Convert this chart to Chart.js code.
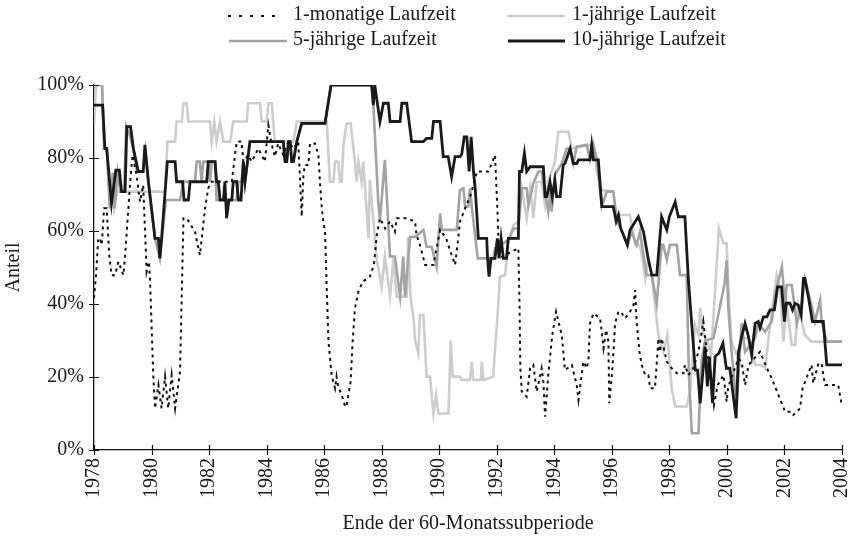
<!DOCTYPE html>
<html>
<head>
<meta charset="utf-8">
<script src="https://cdn.jsdelivr.net/npm/chart.js@4.4.1/dist/chart.umd.min.js"></script>
<style>
  html, body { margin: 0; padding: 0; background: #fff; }
  #wrap { width: 852px; height: 540px; }
</style>
</head>
<body>
<div id="wrap"><canvas id="shareChart" width="852" height="540"></canvas></div>
<script>
// series labels
const seriesLabels = ['1-monatige Laufzeit', '1-jährige Laufzeit', '5-jährige Laufzeit', '10-jährige Laufzeit'];

// x tick years and y tick values (percent)
const yearTicks = [1978, 1980, 1982, 1984, 1986, 1988, 1990, 1992, 1994, 1996, 1998, 2000, 2002, 2004];
const shareTicks = [0, 20, 40, 60, 80, 100];

// [end of subperiode (year), share in %]
const oneMonth = [
  [1978.00, 41.6], [1978.07, 47.9], [1978.15, 58.0], [1978.21, 58.0], [1978.27, 56.2], [1978.35, 66.2],
  [1978.44, 66.2], [1978.53, 53.4], [1978.61, 47.9], [1978.73, 47.9], [1978.85, 51.6], [1979.02, 47.9],
  [1979.08, 53.0], [1979.25, 72.6], [1979.34, 80.8], [1979.48, 75.3], [1979.60, 68.0], [1979.71, 72.6],
  [1979.83, 48.9], [1979.91, 51.6], [1979.95, 46.1], [1980.06, 20.5], [1980.12, 11.4], [1980.24, 17.8],
  [1980.35, 11.4], [1980.47, 20.1], [1980.58, 11.4], [1980.70, 20.5], [1980.82, 11.4], [1980.99, 21.5],
  [1981.11, 63.5], [1981.22, 63.5], [1981.51, 59.8], [1981.68, 53.4], [1981.86, 66.2], [1981.97, 71.7],
  [1982.09, 73.5], [1982.79, 73.5], [1982.90, 80.8], [1982.96, 84.5], [1983.13, 84.5], [1983.19, 79.0],
  [1983.36, 80.8], [1983.48, 79.0], [1983.71, 82.6], [1983.94, 79.0], [1984.06, 89.0], [1984.18, 83.6],
  [1984.29, 80.4], [1984.40, 84.0], [1984.58, 80.8], [1984.76, 84.5], [1984.93, 82.6], [1985.10, 84.5],
  [1985.22, 64.0], [1985.28, 75.3], [1985.33, 78.1], [1985.45, 78.1], [1985.51, 84.0], [1985.68, 84.0],
  [1985.80, 80.8], [1985.86, 72.6], [1985.92, 66.2], [1985.97, 62.6], [1986.03, 59.8], [1986.09, 44.3],
  [1986.15, 29.7], [1986.26, 20.5], [1986.38, 16.9], [1986.43, 20.1], [1986.49, 17.4], [1986.61, 15.1],
  [1986.73, 11.9], [1986.78, 11.9], [1986.84, 15.1], [1986.92, 18.7], [1986.99, 29.7], [1987.07, 38.8],
  [1987.19, 43.4], [1987.34, 46.1], [1987.59, 47.5], [1987.73, 50.7], [1987.83, 58.9], [1987.94, 63.5],
  [1988.12, 60.7], [1988.29, 62.6], [1988.46, 59.8], [1988.52, 63.5], [1988.87, 63.5], [1989.16, 62.6],
  [1989.21, 58.9], [1989.33, 56.2], [1989.51, 50.7], [1989.80, 50.7], [1989.90, 55.0], [1990.03, 60.3],
  [1990.24, 58.0], [1990.35, 55.3], [1990.55, 50.7], [1990.66, 58.0], [1990.72, 62.6], [1990.90, 66.2],
  [1991.07, 69.4], [1991.19, 72.6], [1991.31, 76.3], [1991.71, 76.3], [1991.94, 80.8], [1991.99, 71.7],
  [1992.03, 64.4], [1992.08, 52.5], [1992.75, 55.3], [1992.79, 40.0], [1992.82, 22.4], [1992.87, 16.0],
  [1993.04, 14.6], [1993.16, 22.4], [1993.27, 23.3], [1993.39, 16.0], [1993.56, 22.4], [1993.62, 18.7],
  [1993.68, 9.1], [1993.79, 20.5], [1993.93, 31.5], [1994.06, 37.9], [1994.16, 34.7], [1994.26, 31.5],
  [1994.37, 21.9], [1994.61, 23.3], [1994.78, 17.8], [1994.84, 13.7], [1995.01, 24.2], [1995.13, 22.4],
  [1995.19, 25.1], [1995.24, 34.7], [1995.36, 37.4], [1995.59, 36.1], [1995.65, 32.4], [1995.71, 27.9],
  [1995.80, 32.9], [1995.88, 29.7], [1995.91, 12.8], [1996.00, 20.5], [1996.08, 29.7], [1996.11, 34.7],
  [1996.23, 37.9], [1996.31, 37.9], [1996.46, 36.1], [1996.63, 37.9], [1996.75, 39.7], [1996.81, 43.8],
  [1996.86, 35.2], [1996.96, 26.9], [1997.04, 23.3], [1997.16, 20.5], [1997.27, 20.5], [1997.33, 16.9],
  [1997.50, 16.9], [1997.62, 30.6], [1997.67, 26.9], [1997.73, 30.6], [1997.91, 24.2], [1998.08, 22.4],
  [1998.26, 21.0], [1998.49, 21.0], [1998.54, 23.3], [1998.66, 20.5], [1998.83, 22.4], [1999.01, 26.9],
  [1999.18, 35.2], [1999.30, 26.9], [1999.45, 20.1], [1999.55, 12.3], [1999.68, 17.8], [1999.88, 20.5],
  [1999.99, 13.2], [2000.05, 17.4], [2000.40, 25.1], [2000.51, 24.2], [2000.63, 17.8], [2000.75, 23.3],
  [2001.15, 26.9], [2001.39, 22.4], [2001.56, 19.6], [2001.79, 15.1], [2002.02, 10.5], [2002.25, 10.5],
  [2002.31, 9.6], [2002.54, 11.4], [2002.63, 16.9], [2002.94, 23.3], [2003.00, 18.3], [2003.18, 23.7],
  [2003.29, 23.7], [2003.41, 17.8], [2003.87, 17.8], [2003.99, 12.3]
];

const oneYear = [
  [1978.00, 88.6], [1978.07, 100], [1978.28, 100], [1978.37, 82.6], [1978.45, 82.6], [1978.55, 66.2],
  [1978.62, 72.0], [1978.70, 66.2], [1978.80, 70.8], [1980.47, 70.8], [1980.55, 84.5], [1980.82, 84.5],
  [1980.87, 90.0], [1981.05, 90.0], [1981.11, 95.0], [1981.22, 95.0], [1981.28, 90.0], [1982.03, 90.0],
  [1982.09, 84.5], [1982.18, 90.0], [1982.26, 84.5], [1982.38, 90.0], [1982.50, 84.5], [1982.73, 84.5],
  [1982.84, 90.0], [1983.31, 90.0], [1983.36, 95.0], [1983.77, 95.0], [1983.83, 90.0], [1984.00, 90.0],
  [1984.06, 95.0], [1984.18, 95.0], [1984.23, 90.0], [1984.29, 84.5], [1984.93, 84.5], [1985.05, 90.0],
  [1986.09, 90.0], [1986.20, 73.5], [1986.32, 73.5], [1986.38, 79.0], [1986.49, 79.0], [1986.55, 73.5],
  [1986.61, 73.5], [1986.67, 83.6], [1986.78, 89.5], [1986.92, 89.5], [1987.07, 79.0], [1987.13, 73.5],
  [1987.19, 79.0], [1987.30, 73.5], [1987.36, 79.0], [1987.54, 58.0], [1987.59, 74.0], [1987.71, 63.0],
  [1987.83, 52.0], [1988.00, 44.7], [1988.11, 53.0], [1988.29, 42.0], [1988.41, 52.5], [1988.52, 42.0],
  [1988.87, 42.0], [1988.92, 58.4], [1989.00, 42.0], [1989.10, 36.5], [1989.16, 30.0], [1989.27, 26.5],
  [1989.33, 37.0], [1989.45, 37.0], [1989.56, 20.1], [1989.68, 20.1], [1989.80, 10.0], [1989.89, 15.1],
  [1989.97, 10.0], [1990.32, 10.0], [1990.40, 30.0], [1990.47, 20.1], [1990.72, 20.1], [1990.78, 19.2],
  [1991.07, 19.2], [1991.13, 24.2], [1991.19, 19.2], [1991.45, 19.2], [1991.48, 24.2], [1991.53, 19.2],
  [1991.88, 20.1], [1991.94, 27.9], [1992.03, 37.0], [1992.11, 47.5], [1992.29, 47.9], [1992.40, 57.1],
  [1992.58, 61.6], [1992.75, 62.6], [1992.87, 71.7], [1993.04, 63.5], [1993.16, 71.7], [1993.27, 63.5],
  [1993.39, 73.5], [1993.56, 73.5], [1993.68, 67.1], [1993.79, 73.5], [1994.02, 79.0], [1994.14, 87.2],
  [1994.49, 87.2], [1994.61, 82.6], [1994.84, 83.1], [1995.36, 83.6], [1995.48, 76.3], [1995.65, 71.2],
  [1996.05, 70.8], [1996.15, 64.4], [1996.63, 64.4], [1996.81, 56.2], [1996.98, 56.2], [1997.16, 47.0],
  [1997.27, 52.5], [1997.39, 47.9], [1997.50, 39.7], [1997.62, 31.5], [1997.79, 26.9], [1997.93, 31.5],
  [1998.08, 16.9], [1998.20, 11.9], [1998.60, 11.9], [1998.72, 16.0], [1998.89, 34.2], [1999.01, 31.5],
  [1999.07, 39.0], [1999.18, 31.5], [1999.33, 29.7], [1999.45, 26.0], [1999.72, 60.7], [1999.88, 56.6],
  [1999.99, 56.6], [2000.05, 44.3], [2000.16, 29.7], [2000.34, 26.0], [2000.51, 30.6], [2000.75, 30.6],
  [2000.98, 23.3], [2001.21, 23.3], [2001.33, 22.4], [2001.50, 34.2], [2001.73, 47.9], [2001.85, 44.3],
  [2001.96, 29.7], [2002.08, 39.7], [2002.25, 28.8], [2002.37, 28.8], [2002.48, 39.7], [2002.60, 35.2],
  [2002.71, 31.5], [2002.94, 29.7], [2004.00, 29.7]
];

const fiveYear = [
  [1978.00, 100], [1978.28, 100], [1978.35, 82.6], [1978.45, 82.6], [1978.55, 66.2], [1978.65, 76.0],
  [1978.72, 66.2], [1978.82, 76.0], [1978.92, 70.8], [1979.05, 70.8], [1979.12, 88.6], [1979.25, 86.0],
  [1979.36, 82.6], [1979.50, 76.3], [1979.70, 76.3], [1979.78, 82.0], [1979.89, 73.5], [1980.12, 58.0],
  [1980.29, 52.5], [1980.50, 68.5], [1980.99, 68.5], [1981.11, 73.5], [1981.51, 73.5], [1981.57, 79.0],
  [1981.68, 79.0], [1981.74, 73.5], [1981.80, 79.0], [1981.97, 79.0], [1982.03, 73.5], [1982.09, 79.0],
  [1982.21, 79.0], [1982.26, 68.5], [1982.96, 68.5], [1983.02, 73.5], [1983.13, 73.5], [1983.19, 79.0],
  [1983.25, 73.5], [1983.42, 84.5], [1984.58, 84.5], [1984.64, 79.0], [1984.70, 79.0], [1984.76, 84.5],
  [1984.82, 84.5], [1984.87, 79.0], [1984.93, 79.0], [1985.05, 84.5], [1985.22, 89.5], [1986.03, 89.5],
  [1986.24, 100], [1987.65, 100], [1987.71, 94.5], [1987.88, 68.0], [1987.94, 63.0], [1988.11, 79.5],
  [1988.29, 53.0], [1988.46, 53.0], [1988.64, 42.0], [1988.75, 53.0], [1988.81, 42.0], [1988.99, 58.4],
  [1989.16, 58.4], [1989.45, 60.3], [1989.56, 55.7], [1989.74, 55.7], [1989.91, 50.2], [1990.03, 64.8],
  [1990.09, 60.3], [1990.61, 60.3], [1990.72, 71.2], [1990.84, 71.7], [1990.90, 66.7], [1991.01, 66.7],
  [1991.07, 71.7], [1991.13, 66.7], [1991.34, 52.5], [1991.88, 52.5], [1991.94, 55.3], [1992.40, 57.5],
  [1992.58, 60.7], [1992.75, 60.7], [1992.87, 71.7], [1993.04, 71.7], [1993.10, 67.1], [1993.27, 73.1],
  [1993.45, 76.3], [1993.56, 76.3], [1993.79, 65.3], [1993.85, 69.9], [1993.91, 65.3], [1994.02, 75.3],
  [1994.26, 78.5], [1994.43, 82.6], [1994.55, 82.6], [1994.66, 78.5], [1994.78, 83.1], [1995.13, 83.6],
  [1995.24, 79.5], [1995.36, 83.6], [1995.48, 79.5], [1995.65, 66.7], [1995.82, 70.8], [1996.05, 70.8],
  [1996.17, 63.0], [1996.40, 58.9], [1996.54, 56.2], [1996.69, 59.8], [1996.86, 56.2], [1996.98, 59.8],
  [1997.21, 47.9], [1997.39, 47.9], [1997.56, 40.2], [1997.73, 56.2], [1997.79, 56.2], [1997.91, 52.1],
  [1998.02, 56.2], [1998.26, 56.2], [1998.37, 47.9], [1998.60, 47.9], [1998.68, 20.5], [1998.78, 4.6],
  [1999.01, 4.6], [1999.12, 24.7], [1999.24, 30.0], [1999.53, 30.6], [1999.75, 39.0], [1999.92, 45.7],
  [1999.99, 52.0], [2000.05, 38.8], [2000.16, 26.9], [2000.34, 12.3], [2000.51, 34.7], [2000.63, 26.9],
  [2000.98, 30.6], [2001.09, 34.7], [2001.33, 32.4], [2001.56, 35.2], [2001.67, 42.5], [2001.91, 50.2],
  [2002.02, 39.7], [2002.08, 45.2], [2002.25, 45.2], [2002.43, 34.7], [2002.60, 39.7], [2002.71, 47.0],
  [2002.94, 39.7], [2003.06, 35.2], [2003.24, 41.1], [2003.29, 35.2], [2003.47, 29.7], [2004.00, 29.7]
];

const tenYear = [
  [1978.00, 94.5], [1978.30, 94.5], [1978.38, 82.6], [1978.44, 82.6], [1978.61, 67.6], [1978.76, 76.7],
  [1978.88, 76.7], [1978.96, 70.8], [1979.08, 70.8], [1979.14, 88.6], [1979.27, 88.6], [1979.37, 82.6],
  [1979.54, 76.3], [1979.71, 76.3], [1979.77, 83.6], [1979.89, 73.5], [1980.12, 58.0], [1980.24, 58.0],
  [1980.29, 52.5], [1980.35, 58.0], [1980.55, 79.0], [1980.82, 79.0], [1980.87, 73.5], [1981.08, 73.5],
  [1981.13, 68.5], [1981.28, 68.5], [1981.34, 73.5], [1981.92, 73.5], [1981.97, 79.0], [1982.21, 79.0],
  [1982.26, 73.5], [1982.32, 73.5], [1982.38, 68.5], [1982.50, 68.5], [1982.55, 73.5], [1982.61, 63.5],
  [1982.69, 68.5], [1982.79, 68.5], [1982.84, 73.5], [1982.96, 73.5], [1983.02, 68.5], [1983.11, 68.5],
  [1983.19, 79.0], [1983.25, 73.5], [1983.42, 84.5], [1984.58, 84.5], [1984.64, 79.0], [1984.70, 79.0],
  [1984.76, 84.5], [1984.82, 84.5], [1984.87, 79.0], [1984.93, 79.0], [1985.05, 84.5], [1985.22, 89.5],
  [1986.03, 89.5], [1986.24, 100], [1987.65, 100], [1987.71, 94.5], [1987.76, 100], [1987.94, 90.0],
  [1988.06, 95.0], [1988.23, 95.0], [1988.29, 90.0], [1988.64, 90.0], [1988.70, 95.0], [1988.87, 95.0],
  [1989.04, 84.5], [1989.45, 84.5], [1989.56, 85.4], [1989.74, 85.4], [1989.80, 90.0], [1990.03, 90.0],
  [1990.14, 80.4], [1990.31, 80.4], [1990.43, 74.9], [1990.55, 80.4], [1990.72, 80.4], [1990.78, 81.0],
  [1990.87, 85.8], [1990.96, 85.8], [1991.04, 76.3], [1991.11, 85.8], [1991.19, 76.3], [1991.25, 71.7],
  [1991.36, 58.0], [1991.65, 58.0], [1991.68, 52.5], [1991.73, 47.5], [1991.80, 52.5], [1991.94, 52.5],
  [1992.02, 58.0], [1992.08, 52.5], [1992.15, 58.0], [1992.23, 52.5], [1992.34, 52.5], [1992.40, 58.0],
  [1992.75, 58.0], [1992.79, 76.3], [1992.87, 76.3], [1992.96, 81.3], [1993.04, 76.3], [1993.16, 77.6],
  [1993.62, 77.6], [1993.68, 69.4], [1993.74, 69.4], [1993.85, 73.5], [1993.93, 69.4], [1994.02, 74.0],
  [1994.08, 69.4], [1994.20, 69.4], [1994.31, 78.1], [1994.37, 78.5], [1994.55, 82.6], [1994.66, 78.5],
  [1994.78, 78.5], [1994.84, 79.5], [1995.24, 79.5], [1995.30, 83.6], [1995.36, 79.5], [1995.53, 79.5],
  [1995.65, 66.7], [1996.05, 66.7], [1996.15, 62.6], [1996.23, 64.4], [1996.31, 60.7], [1996.54, 56.2],
  [1996.63, 60.3], [1996.92, 63.9], [1997.10, 59.8], [1997.27, 52.1], [1997.39, 47.9], [1997.56, 47.9],
  [1997.73, 63.9], [1997.91, 60.3], [1998.00, 63.9], [1998.20, 68.0], [1998.31, 63.9], [1998.54, 63.9],
  [1998.66, 46.6], [1998.90, 21.9], [1998.98, 21.9], [1999.07, 12.8], [1999.24, 28.3], [1999.32, 17.4],
  [1999.39, 25.6], [1999.50, 12.8], [1999.59, 25.6], [1999.72, 26.5], [1999.86, 29.2], [1999.98, 22.4],
  [2000.10, 22.4], [2000.32, 8.7], [2000.40, 26.5], [2000.51, 31.0], [2000.63, 34.7], [2000.75, 31.0],
  [2000.86, 26.0], [2000.98, 34.7], [2001.09, 35.2], [2001.15, 33.5], [2001.27, 36.5], [2001.39, 36.5],
  [2001.50, 38.4], [2001.65, 38.4], [2001.76, 44.7], [2001.90, 44.7], [2002.00, 35.2], [2002.06, 40.2],
  [2002.19, 40.2], [2002.28, 38.4], [2002.37, 40.2], [2002.48, 39.7], [2002.58, 37.0], [2002.66, 47.0],
  [2002.71, 47.0], [2002.85, 41.1], [2002.97, 35.2], [2003.35, 35.2], [2003.47, 23.3], [2004.00, 23.3]
];

const FONT = 'Liberation Serif, Times New Roman, serif';
const TEXT = '#1a1a1a';

function toPoints(pairs) {
    return pairs.map(function(p) { return { x: p[0], y: p[1] }; });
}

// tick marks that cross the axis lines, like the original
const crossTicks = {
    id: 'crossTicks',
    afterDatasetsDraw(chart) {
        const ctx = chart.ctx;
        const xs = chart.scales.x, ys = chart.scales.y;
        const area = chart.chartArea;
        ctx.save();
        ctx.strokeStyle = '#111';
        ctx.lineWidth = 1.2;
        ctx.beginPath();
        yearTicks.forEach(function(v) {
            const px = Math.round(xs.getPixelForValue(v)) + 0.5;
            ctx.moveTo(px, area.bottom - 5);
            ctx.lineTo(px, area.bottom + 5);
        });
        shareTicks.forEach(function(v) {
            const py = Math.round(ys.getPixelForValue(v)) + 0.5;
            ctx.moveTo(area.left - 5, py);
            ctx.lineTo(area.left + 5, py);
        });
        ctx.stroke();
        ctx.restore();
    }
};

// two-row legend as in the picture
const legendBlock = {
    id: 'legendBlock',
    afterDraw(chart) {
        const ctx = chart.ctx;
        const slots = [
            { ds: 0, x0: 228, x1: 283, tx: 293, y: 15, dash: [3, 8] },
            { ds: 1, x0: 507, x1: 565, tx: 572, y: 15 },
            { ds: 2, x0: 229, x1: 287, tx: 293, y: 40 },
            { ds: 3, x0: 508, x1: 565, tx: 572, y: 40 }
        ];
        ctx.save();
        slots.forEach(function(s) {
            const ds = chart.data.datasets[s.ds];
            ctx.strokeStyle = ds.borderColor;
            ctx.lineWidth = ds.borderWidth;
            ctx.setLineDash(s.dash || []);
            ctx.beginPath();
            ctx.moveTo(s.x0, s.y + 1);
            ctx.lineTo(s.x1, s.y + 1);
            ctx.stroke();
            ctx.setLineDash([]);
            ctx.fillStyle = TEXT;
            ctx.font = '20px ' + FONT;
            ctx.textBaseline = 'middle';
            ctx.textAlign = 'left';
            ctx.fillText(ds.label, s.tx, s.y);
        });
        ctx.restore();
    }
};

document.addEventListener('DOMContentLoaded', function() {
    if (typeof Chart === 'undefined') {
        console.error('Chart.js is not loaded.');
        return;
    }
    const canvas = document.getElementById('shareChart');

    new Chart(canvas.getContext('2d'), {
        type: 'line',
        data: {
            datasets: [
                {
                    label: seriesLabels[0],
                    data: toPoints(oneMonth),
                    borderColor: '#111111',
                    borderWidth: 2,
                    borderDash: [3, 4],
                    order: 0
                },
                {
                    label: seriesLabels[1],
                    data: toPoints(oneYear),
                    borderColor: '#cdcdcd',
                    borderWidth: 2.6,
                    order: 3
                },
                {
                    label: seriesLabels[2],
                    data: toPoints(fiveYear),
                    borderColor: '#a3a3a3',
                    borderWidth: 2.6,
                    order: 2
                },
                {
                    label: seriesLabels[3],
                    data: toPoints(tenYear),
                    borderColor: '#1a1a1a',
                    borderWidth: 2.8,
                    order: 1
                }
            ]
        },
        options: {
            responsive: false,
            animation: false,
            events: [],
            elements: {
                point: { radius: 0 },
                line: { tension: 0, fill: false, borderJoinStyle: 'miter' }
            },
            layout: { padding: { top: 85, right: 10, left: 0, bottom: 0 } },
            plugins: {
                legend: { display: false },
                tooltip: { enabled: false }
            },
            scales: {
                x: {
                    type: 'linear',
                    min: 1978,
                    max: 2004,
                    afterFit: function(scale) {
                        scale.height = 90;
                        scale.paddingLeft = 0;
                        scale.paddingRight = 0;
                    },
                    afterBuildTicks: function(scale) {
                        scale.ticks = yearTicks.map(function(v) { return { value: v }; });
                    },
                    grid: { display: false, drawTicks: false },
                    border: { display: true, color: '#111', width: 1.3 },
                    ticks: {
                        autoSkip: false,
                        minRotation: 90,
                        maxRotation: 90,
                        padding: 8,
                        color: TEXT,
                        font: { family: FONT, size: 20 },
                        callback: function(v) { return String(v); }
                    },
                    title: {
                        display: true,
                        text: 'Ende der 60-Monatssubperiode',
                        color: TEXT,
                        font: { family: FONT, size: 20 },
                        padding: { top: 0, bottom: 4 }
                    }
                },
                y: {
                    min: 0,
                    max: 100,
                    afterFit: function(scale) { scale.width = 94; },
                    afterBuildTicks: function(scale) {
                        scale.ticks = shareTicks.map(function(v) { return { value: v }; });
                    },
                    grid: { display: false, drawTicks: false },
                    border: { display: true, color: '#111', width: 1.3 },
                    ticks: {
                        padding: 10,
                        color: TEXT,
                        font: { family: FONT, size: 20 },
                        callback: function(v) { return v + '%'; }
                    },
                    title: {
                        display: true,
                        text: 'Anteil',
                        color: TEXT,
                        font: { family: FONT, size: 20 },
                        padding: { top: 2, bottom: 0 }
                    }
                }
            }
        },
        plugins: [crossTicks, legendBlock]
    });
});
</script>
</body>
</html>
